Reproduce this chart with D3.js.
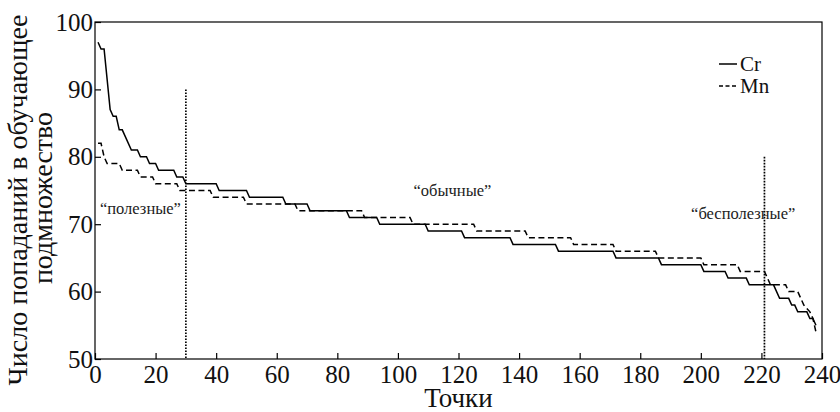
<!DOCTYPE html>
<html>
<head>
<meta charset="utf-8">
<script src="https://cdn.jsdelivr.net/npm/d3@7"></script>
<style>
  body { margin: 0; background: #fff; }
  svg text { font-family: "Liberation Serif", "DejaVu Serif", serif; fill: #111; }
</style>
</head>
<body>
<script>
// Cr vertices (point index, hits)
var crX = [1, 2, 3, 5, 6, 7, 8, 9, 12, 14, 15, 17, 18, 20, 21, 26, 27, 29, 30, 40, 41, 50, 51, 62, 63, 70, 71, 83, 84, 93, 94, 109, 110, 121, 122, 137, 138, 152, 153, 171, 172, 186, 187, 200, 201, 208, 209, 215, 216, 224, 226, 229, 230, 231, 232, 235, 236, 237, 238];
var crY = [97, 96, 96, 87, 86, 86, 84, 84, 81, 81, 80, 80, 79, 79, 78, 78, 77, 77, 76, 76, 75, 75, 74, 74, 73, 73, 72, 72, 71, 71, 70, 70, 69, 69, 68, 68, 67, 67, 66, 66, 65, 65, 64, 64, 63, 63, 62, 62, 61, 61, 59, 59, 58, 58, 57, 57, 56, 56, 55];

// Mn vertices
var mnX = [1, 2, 3, 4, 8, 9, 14, 15, 19, 20, 27, 28, 38, 39, 49, 50, 66, 67, 88, 89, 104, 105, 125, 126, 142, 143, 157, 158, 171, 172, 185, 186, 200, 201, 212, 213, 221, 222, 223, 228, 229, 232, 234, 236, 237, 238];
var mnY = [82, 82, 80, 79, 79, 78, 78, 77, 77, 76, 76, 75, 75, 74, 74, 73, 73, 72, 72, 71, 71, 70, 70, 69, 69, 68, 68, 67, 67, 66, 66, 65, 65, 64, 64, 63, 63, 62, 61, 61, 60, 60, 58, 57, 56, 54];

var xTicks = [0, 20, 40, 60, 80, 100, 120, 140, 160, 180, 200, 220, 240];
var yTicks = [50, 60, 70, 80, 90, 100];

// vertical dotted separators: x position and top value
var sepX = [30, 221];
var sepTop = [90, 80];

var groupNames = ["“полезные”", "“обычные”", "“бесполезные”"];
var groupX = [15, 118, 214];
var groupY = [72.1, 74.7, 71.4];

var serif = "'Liberation Serif', 'DejaVu Serif', serif";
var width = 840, height = 412;
var margin = { top: 22, right: 18, bottom: 53, left: 95 };

var svg = d3.select("body").append("svg")
  .attr("width", width)
  .attr("height", height);

var x = d3.scaleLinear().domain([0, 240]).range([margin.left, width - margin.right]);
var y = d3.scaleLinear().domain([50, 100]).range([height - margin.bottom, margin.top]);

// frame
svg.append("rect")
  .attr("x", x(0)).attr("y", y(100))
  .attr("width", x(240) - x(0)).attr("height", y(50) - y(100))
  .attr("fill", "none").attr("stroke", "#000").attr("stroke-width", 1.2);

// axes, ticks pointing inward
var gx = svg.append("g")
  .attr("transform", "translate(0," + y(50) + ")")
  .call(d3.axisBottom(x).tickValues(xTicks).tickSizeInner(-6).tickSizeOuter(0).tickPadding(4));
gx.select(".domain").remove();
gx.attr("font-family", serif).attr("font-size", 25);
gx.selectAll("line").attr("stroke-width", 1.2);
gx.selectAll("text").attr("dy", "0.8em").style("font-family", serif);

var gy = svg.append("g")
  .attr("transform", "translate(" + x(0) + ",0)")
  .call(d3.axisLeft(y).tickValues(yTicks).tickSizeInner(-6).tickSizeOuter(0).tickPadding(2));
gy.select(".domain").remove();
gy.attr("font-family", serif).attr("font-size", 25);
gy.selectAll("line").attr("stroke-width", 1.2);
gy.selectAll("text").style("font-family", serif);

// separators
sepX.forEach(function(s, i) {
  svg.append("line")
    .attr("x1", x(s)).attr("x2", x(s))
    .attr("y1", y(sepTop[i])).attr("y2", y(50))
    .attr("stroke", "#000").attr("stroke-width", 1.7)
    .attr("stroke-dasharray", "1.6,1.4");
});

var line = d3.line()
  .x(function(d) { return x(d[0]); })
  .y(function(d) { return y(d[1]); });

svg.append("path")
  .datum(d3.zip(crX, crY))
  .attr("d", line)
  .attr("fill", "none").attr("stroke", "#000").attr("stroke-width", 1.5);

svg.append("path")
  .datum(d3.zip(mnX, mnY))
  .attr("d", line)
  .attr("fill", "none").attr("stroke", "#000").attr("stroke-width", 1.5)
  .attr("stroke-dasharray", "6,3.5");

// group labels
groupNames.forEach(function(t, i) {
  svg.append("text")
    .attr("x", x(groupX[i])).attr("y", y(groupY[i]))
    .attr("text-anchor", "middle").attr("dominant-baseline", "middle")
    .style("font-size", "16.5px").style("fill", "#222")
    .text(t);
});

// legend
var legend = svg.append("g").attr("transform", "translate(719,64)");
legend.append("line").attr("x1", 0).attr("x2", 18).attr("y1", 0).attr("y2", 0)
  .attr("stroke", "#000").attr("stroke-width", 1.5);
legend.append("text").attr("x", 21).attr("y", 7).style("font-size", "21px").text("Cr");
legend.append("line").attr("x1", 0).attr("x2", 18).attr("y1", 22).attr("y2", 22)
  .attr("stroke", "#000").attr("stroke-width", 1.5).attr("stroke-dasharray", "4,2.5");
legend.append("text").attr("x", 21).attr("y", 29).style("font-size", "21px").text("Mn");

// axis titles
svg.append("text")
  .attr("x", (x(0) + x(240)) / 2).attr("y", 407)
  .attr("text-anchor", "middle").style("font-size", "27px")
  .text("Точки");

svg.append("text")
  .attr("transform", "translate(27,200) rotate(-90)")
  .attr("text-anchor", "middle").style("font-size", "28px")
  .text("Число попаданий в обучающее");
svg.append("text")
  .attr("transform", "translate(52,198) rotate(-90)")
  .attr("text-anchor", "middle").style("font-size", "28px")
  .text("подмножество");
</script>
</body>
</html>
